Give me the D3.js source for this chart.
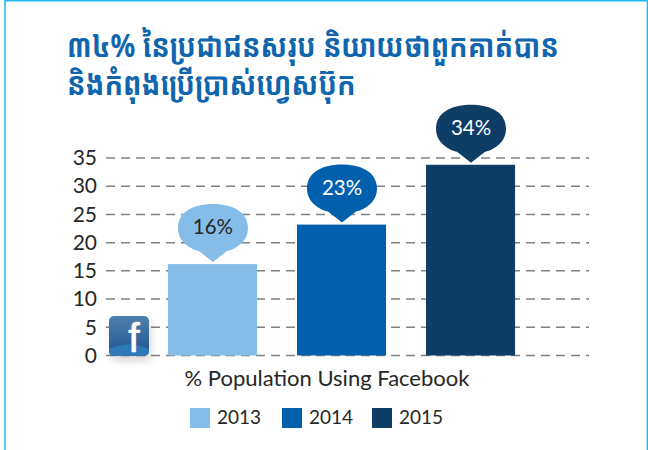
<!DOCTYPE html>
<html>
<head>
<meta charset="utf-8">
<script src="https://cdn.jsdelivr.net/npm/d3@7"></script>
<style>
  body { margin: 0; background: #fff; }
  svg { display: block; }
  text { font-family: Lato, "Open Sans", sans-serif; fill: #262626; }
</style>
</head>
<body>
<div id="chart"></div>
<script>
var titleLines = ["៣៤% នៃប្រជាជនសរុប និយាយថាពួកគាត់បាន", "និងកំពុងប្រើប្រាស់ហ្វេសប៊ុក"];
var years = ["2013", "2014", "2015"];
var values = [16.2, 23.2, 33.8];
var labels = ["16%", "23%", "34%"];
var colors = ["#85bde8", "#0060ae", "#0e3d66"];
var labelColors = ["#262626", "#ffffff", "#ffffff"];
var yTicks = [0, 5, 10, 15, 20, 25, 30, 35];
var xTitle = "% Population Using Facebook";

var width = 648, height = 450;

var svg = d3.select("#chart").append("svg")
    .attr("width", width)
    .attr("height", height);

// frame
svg.append("path")
    .attr("d", "M5,450V0.7H647.5V450")
    .attr("fill", "none")
    .attr("stroke", "#1eb8ee")
    .attr("stroke-width", 1.5);

// title, squeezed to the width of the original lettering
svg.selectAll(".title")
    .data(titleLines)
  .enter().append("text")
    .attr("class", "title")
    .attr("transform", function(d, i) { return "translate(67," + (57 + i * 38) + ") scale(0.915,1.05)"; })
    .style("font-family", "'Noto Sans Khmer', 'Khmer OS', 'Noto Sans', sans-serif")
    .style("font-size", "30px")
    .style("font-weight", "bold")
    .style("fill", "#0f65ae")
    .text(function(d) { return d; });

var y = d3.scaleLinear().domain([0, 35]).range([355.5, 158]);
var x = d3.scaleBand().domain(years).range([106, 577]).paddingInner(0.31).paddingOuter(0.48);

var yAxis = d3.axisLeft(y)
    .tickValues(yTicks)
    .tickSize(0)
    .tickPadding(9);

var gAxis = svg.append("g")
    .attr("transform", "translate(106,0)")
    .call(yAxis);
gAxis.select(".domain").remove();
gAxis.selectAll("text")
    .style("font-size", "21px");

// dashed grid
svg.append("g").selectAll("line")
    .data(yTicks)
  .enter().append("line")
    .attr("x1", 106)
    .attr("x2", 589)
    .attr("y1", function(d) { return y(d); })
    .attr("y2", function(d) { return y(d); })
    .attr("stroke", "#808080")
    .attr("stroke-width", 1.5)
    .attr("stroke-dasharray", "9,6");

var data = years.map(function(yr, i) {
  return { year: yr, value: values[i], label: labels[i], color: colors[i], labelColor: labelColors[i] };
});

svg.selectAll(".bar")
    .data(data)
  .enter().append("rect")
    .attr("class", "bar")
    .attr("x", function(d) { return x(d.year); })
    .attr("y", function(d) { return y(d.value); })
    .attr("width", x.bandwidth())
    .attr("height", function(d) { return y(0) - y(d.value); })
    .attr("fill", function(d) { return d.color; });

// speech bubble above each bar, tip just over the bar top
function bubblePath(d) {
  var cx = x(d.year) + x.bandwidth() / 2 + 0.5;
  var tip = y(d.value) - 2;
  var cy = tip - 34;
  var rx = 35, ry = 24, k = 0.62;
  var p = d3.path();
  p.moveTo(cx - rx, cy);
  p.bezierCurveTo(cx - rx, cy - ry * k, cx - rx * k, cy - ry, cx, cy - ry);
  p.bezierCurveTo(cx + rx * k, cy - ry, cx + rx, cy - ry * k, cx + rx, cy);
  p.bezierCurveTo(cx + rx, cy + ry * 0.62, cx + rx * 0.6, cy + ry * 0.9, cx + 14, cy + ry - 1);
  p.lineTo(cx, tip);
  p.lineTo(cx - 14, cy + ry - 1);
  p.bezierCurveTo(cx - rx * 0.6, cy + ry * 0.9, cx - rx, cy + ry * 0.62, cx - rx, cy);
  p.closePath();
  return p.toString();
}

svg.selectAll(".bubble")
    .data(data)
  .enter().append("path")
    .attr("class", "bubble")
    .attr("d", bubblePath)
    .attr("fill", function(d) { return d.color; });

svg.selectAll(".bubbleLabel")
    .data(data)
  .enter().append("text")
    .attr("class", "bubbleLabel")
    .attr("x", function(d) { return x(d.year) + x.bandwidth() / 2 + 0.5; })
    .attr("y", function(d) { return y(d.value) - 30; })
    .attr("text-anchor", "middle")
    .style("font-size", "20.5px")
    .style("fill", function(d) { return d.labelColor; })
    .text(function(d) { return d.label; });

// facebook icon
var defs = svg.append("defs");
var grad = defs.append("linearGradient").attr("id", "fbGrad").attr("x1", 0).attr("x2", 0).attr("y1", 0).attr("y2", 1);
grad.append("stop").attr("offset", "0%").attr("stop-color", "#4f7fae");
grad.append("stop").attr("offset", "100%").attr("stop-color", "#1f5690");
var blur = defs.append("filter").attr("id", "fbShadow").attr("x", "-40%").attr("y", "-40%").attr("width", "180%").attr("height", "180%");
blur.append("feGaussianBlur").attr("stdDeviation", 5);
defs.append("clipPath").attr("id", "fbClip").append("rect")
    .attr("x", 109).attr("y", 316).attr("width", 40).attr("height", 40).attr("rx", 5);

svg.append("rect")
    .attr("x", 112).attr("y", 322).attr("width", 38).attr("height", 38)
    .attr("fill", "#000").attr("opacity", 0.18)
    .attr("filter", "url(#fbShadow)");
var icon = svg.append("g").attr("clip-path", "url(#fbClip)");
icon.append("rect")
    .attr("x", 109).attr("y", 316).attr("width", 40).attr("height", 40)
    .attr("fill", "url(#fbGrad)");
icon.append("path")
    .attr("d", "M109,349Q129,340 149,349V356H109Z")
    .attr("fill", "#2f78b8");
svg.append("text")
    .attr("x", 134).attr("y", 352)
    .attr("text-anchor", "middle")
    .style("font-family", "'Liberation Sans', sans-serif")
    .style("font-size", "41px")
    .style("fill", "#fff")
    .style("stroke", "#fff")
    .style("stroke-width", 0.7)
    .text("f");

// x title
svg.append("text")
    .attr("x", 327)
    .attr("y", 386)
    .attr("text-anchor", "middle")
    .style("font-size", "22px")
    .text(xTitle);

// legend
var legendX = d3.scaleOrdinal().domain(years).range([190, 282, 372]);
var legend = svg.selectAll(".legend")
    .data(data)
  .enter().append("g")
    .attr("class", "legend")
    .attr("transform", function(d) { return "translate(" + legendX(d.year) + ",408)"; });
legend.append("rect")
    .attr("width", 20)
    .attr("height", 20)
    .attr("fill", function(d) { return d.color; });
legend.append("text")
    .attr("x", 27)
    .attr("y", 16)
    .style("font-size", "19px")
    .text(function(d) { return d.year; });
</script>
</body>
</html>
